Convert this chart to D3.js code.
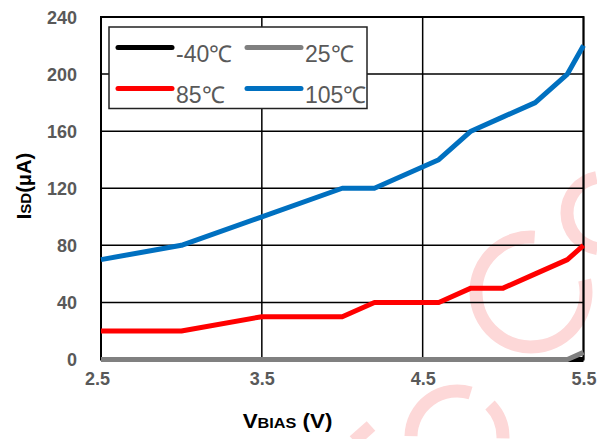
<!DOCTYPE html>
<html><head><meta charset="utf-8">
<script src="https://cdn.jsdelivr.net/npm/d3@7"></script>
<style>body{margin:0;background:#fff}svg{display:block}</style>
</head><body>
<svg id="c" width="597" height="439"></svg>
<script>
const vbias = [2.5, 3.0, 3.5, 4.0, 4.2, 4.4, 4.6, 4.8, 5.0, 5.2, 5.4, 5.5];
const isdM40 = [0, 0, 0, 0, 0, 0, 0, 0, 0, 0, 0, 0];
const isd25 = [0, 0, 0, 0, 0, 0, 0, 0, 0, 0, 0, 5];
const isd85 = [20, 20, 30, 30, 40, 40, 40, 50, 50, 60, 70, 80];
const isd105 = [70, 80, 100, 120, 120, 130, 140, 160, 170, 180, 200, 220];
const seriesNames = ["-40℃", "25℃", "85℃", "105℃"];
const seriesColors = ["#000000", "#808080", "#ff0000", "#0070c0"];
const xTicks = [2.5, 3.5, 4.5, 5.5];
const yTicks = [0, 40, 80, 120, 160, 200, 240];

const svg = d3.select("#c");
const L = 101, R = 583.5, T = 17, B = 359.5;
const x = d3.scaleLinear().domain([2.5, 5.5]).range([L, R]);
const y = d3.scaleLinear().domain([0, 240]).range([B, T]);
const FONT = "Liberation Sans, Arial, sans-serif";

// faint watermark
const wm = svg.append("g").attr("fill", "none").attr("stroke", "#fdd8d8").attr("stroke-width", 13);
const arcAt = (cx, cy, r, a0, a1) => wm.append("path")
  .attr("d", d3.arc()({innerRadius: r, outerRadius: r, startAngle: a0, endAngle: a1}))
  .attr("transform", `translate(${cx},${cy})`);
arcAt(531, 292, 55, 1.35, 6.35);
arcAt(603, 213, 36, 3.3, 6.1);
arcAt(457, 437, 46, -1.55, 0.3);
arcAt(457, 437, 46, 0.8, 1.6);
wm.append("line").attr("x1", 354).attr("y1", 441).attr("x2", 371).attr("y2", 426);

// grid
const g = svg.append("g");
g.selectAll("line.h").data(yTicks).join("line")
  .attr("x1", L).attr("x2", R).attr("y1", d => y(d)).attr("y2", d => y(d))
  .attr("stroke", "#000").attr("stroke-width", 1.5);
g.selectAll("line.v").data(xTicks).join("line")
  .attr("y1", T).attr("y2", B).attr("x1", d => x(d)).attr("x2", d => x(d))
  .attr("stroke", "#000").attr("stroke-width", 1.5);
g.append("rect").attr("x", L).attr("y", T).attr("width", R - L).attr("height", B - T)
  .attr("fill", "none").attr("stroke", "#000").attr("stroke-width", 2);

// tick labels
const yAxis = d3.axisLeft(y).tickValues(yTicks).tickSize(0).tickPadding(24);
const ya = svg.append("g").attr("transform", `translate(${L},0)`).call(yAxis);
ya.select(".domain").remove();
ya.selectAll("text").attr("font-family", FONT).attr("font-size", 18)
  .attr("font-weight", "bold").attr("fill", "#595959").attr("dy", "0.36em");
const xAxis = d3.axisBottom(x).tickValues(xTicks).tickSize(0).tickPadding(13).tickFormat(d3.format(".1f"));
const xa = svg.append("g").attr("transform", `translate(0,${B})`).call(xAxis);
xa.select(".domain").remove();
xa.selectAll("text").attr("font-family", FONT).attr("font-size", 18)
  .attr("font-weight", "bold").attr("fill", "#595959");
xa.selectAll(".tick").filter(d => d === 2.5).select("text").attr("dx", -4);

// series
const allSeries = [isdM40, isd25, isd85, isd105];
const line = d3.line().x((d, i) => x(vbias[i])).y(d => y(d));
svg.append("g").selectAll("path").data(allSeries).join("path")
  .attr("d", line).attr("fill", "none")
  .attr("stroke", (d, i) => seriesColors[i]).attr("stroke-width", 5)
  .attr("stroke-linejoin", "round");

// axis titles
const xt = svg.append("text").attr("transform", "translate(287.5,427.5) scale(1.12,1)")
  .attr("text-anchor", "middle")
  .attr("font-family", FONT).attr("font-weight", "bold").attr("fill", "#000");
xt.append("tspan").attr("font-size", 20).text("V");
xt.append("tspan").attr("font-size", 14.5).text("BIAS");
xt.append("tspan").attr("font-size", 20).text(" (V)");
const yt = svg.append("text").attr("transform", "translate(31,186) rotate(-90)").attr("text-anchor", "middle")
  .attr("font-family", FONT).attr("font-weight", "bold").attr("fill", "#000");
yt.append("tspan").attr("font-size", 20).text("I");
yt.append("tspan").attr("font-size", 15).text("SD");
yt.append("tspan").attr("font-size", 20).text("(μA)");

// legend
const lg = svg.append("g");
lg.append("rect").attr("x", 109).attr("y", 27).attr("width", 258).attr("height", 81.5)
  .attr("fill", "#fff").attr("stroke", "#222").attr("stroke-width", 1.5);
const pos = [[118, 47.5], [247, 47.5], [118, 88.5], [247, 88.5]];
seriesNames.forEach((n, i) => {
  const [px, py] = pos[i];
  lg.append("line").attr("x1", px).attr("x2", px + 54).attr("y1", py).attr("y2", py)
    .attr("stroke", seriesColors[i]).attr("stroke-width", 5).attr("stroke-linecap", "round");
  lg.append("text").attr("x", px + 58).attr("y", py + 14).text(n)
    .attr("font-family", FONT).attr("font-size", 23).attr("fill", "#595959");
});
</script>
</body></html>
